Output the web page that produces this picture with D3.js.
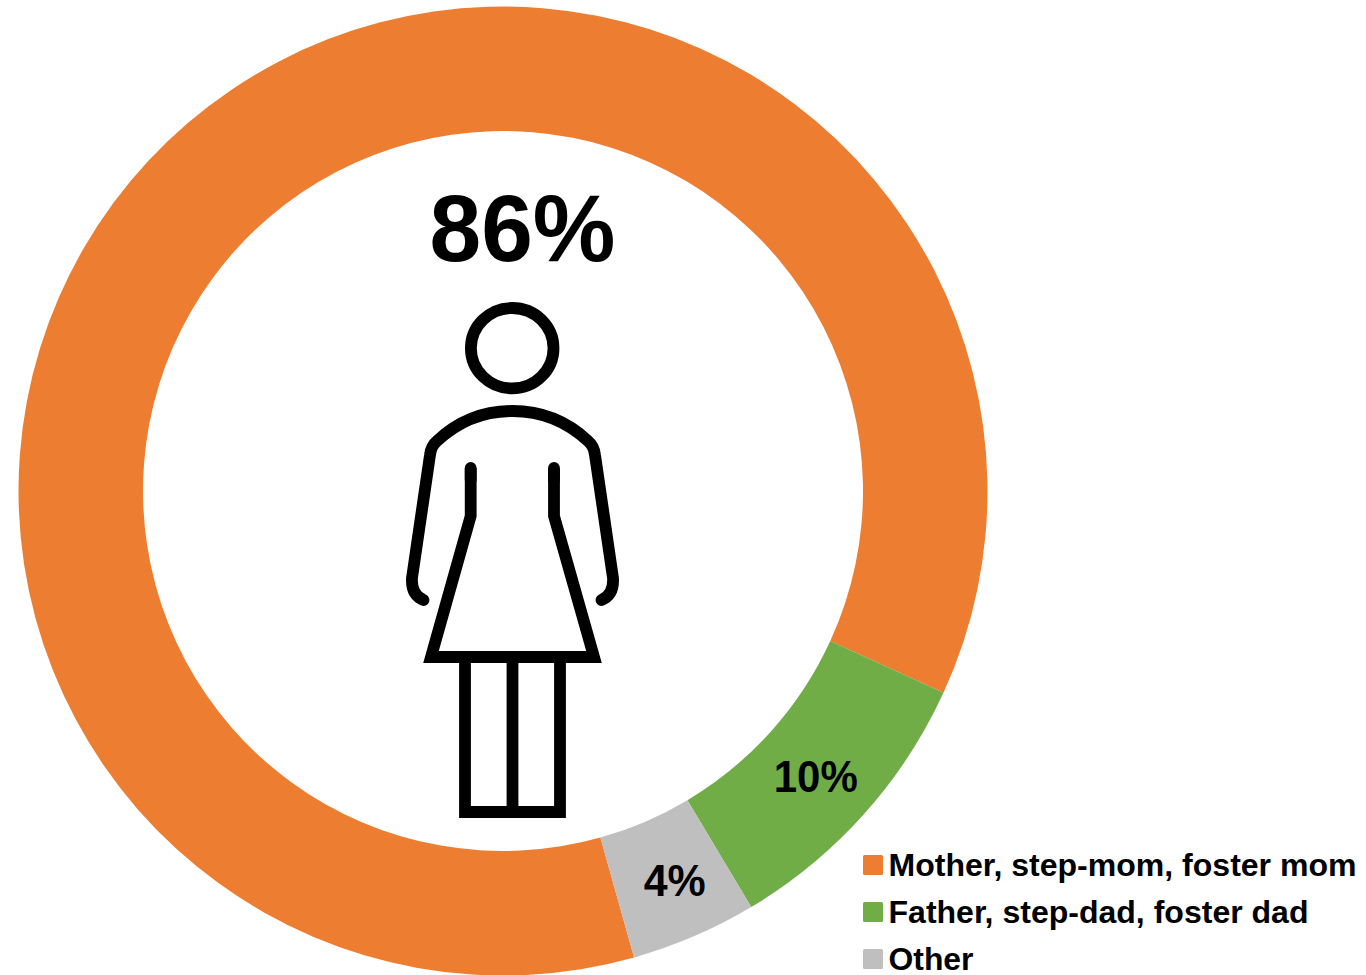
<!DOCTYPE html>
<html><head><meta charset="utf-8">
<script src="https://cdn.jsdelivr.net/npm/d3@7/dist/d3.min.js"></script>
<style>html,body{margin:0;padding:0;background:#fff}svg{display:block}text{font-family:"Liberation Sans",Arial,sans-serif;font-weight:700;fill:#000}</style>
</head><body><svg id="c" width="1366" height="975"></svg>
<script>
const categories = ["Mother, step-mom, foster mom","Father, step-dad, foster dad","Other"];
const values = [86.2,9.6,4.2];
const labels = ["86%","10%","4%"];
const colors = ["#ED7D31","#70AD47","#BFBFBF"];

const svg = d3.select("#c");
const cx = 503, cy = 491, R = 484.5, r = 360;
const start = 164.3 * Math.PI / 180;
const pie = d3.pie().sort(null).startAngle(start).endAngle(start + 2*Math.PI);
const arc = d3.arc().innerRadius(r).outerRadius(R);
const g = svg.append("g").attr("transform", `translate(${cx},${cy})`);
const arcs = pie(values);
g.selectAll("path").data(arcs).join("path").attr("d", arc).attr("fill", (d,i)=>colors[i]);

// data labels
svg.append("text").attr("x",522.5).attr("y",260.5).attr("text-anchor","middle").attr("font-size",94).attr("textLength",186).attr("lengthAdjust","spacingAndGlyphs").text(labels[0]);
const off = {1:[-1.5,19],2:[5,17]};
[1,2].forEach(i=>{
  const [x,y] = arc.centroid(arcs[i]);
  svg.append("text").attr("x",cx+x+off[i][0]).attr("y",cy+y+off[i][1]).attr("text-anchor","middle").attr("font-size",44).attr("textLength",i===1?84:62).attr("lengthAdjust","spacingAndGlyphs").text(labels[i]);
});

// legend
const ly = d3.scalePoint().domain(categories).range([865,959]);
const leg = svg.selectAll("g.l").data(categories).join("g").attr("class","l").attr("transform",d=>`translate(863,${ly(d)})`);
leg.append("rect").attr("x",0).attr("y",-10).attr("width",20).attr("height",20).attr("rx",1.5).attr("fill",(d,i)=>colors[i]);
leg.append("text").attr("x",25.5).attr("y",11).attr("font-size",31.5).attr("textLength",(d,i)=>[468,420,85][i]).attr("lengthAdjust","spacingAndGlyphs").text(d=>d);

// person icon
const icon = svg.append("g").attr("fill","none").attr("stroke","#000").attr("stroke-width",11.8);
icon.append("ellipse").attr("cx",512.2).attr("cy",348.2).attr("rx",41.3).attr("ry",40.2);
icon.append("path").attr("stroke-linecap","round").attr("stroke-linejoin","round")
 .attr("d","M423.5,600 Q411,595 412,578 L430,455 Q431,446 437,441 Q469,411 512.5,411 Q556,411 588,441 Q594,446 595,455 L613,578 Q614,595 601.5,600");
icon.append("path").attr("stroke-linejoin","miter")
 .attr("d","M470.7,468 L470.7,516 L431,657 L594,657 L554,516 L554,468");
icon.append("path").attr("stroke-linecap","round").attr("d","M470.7,468 V480 M554,468 V480");
icon.append("path").attr("d","M465,657 V812 H560 V657 M512.5,657 V812");
</script></body></html>
